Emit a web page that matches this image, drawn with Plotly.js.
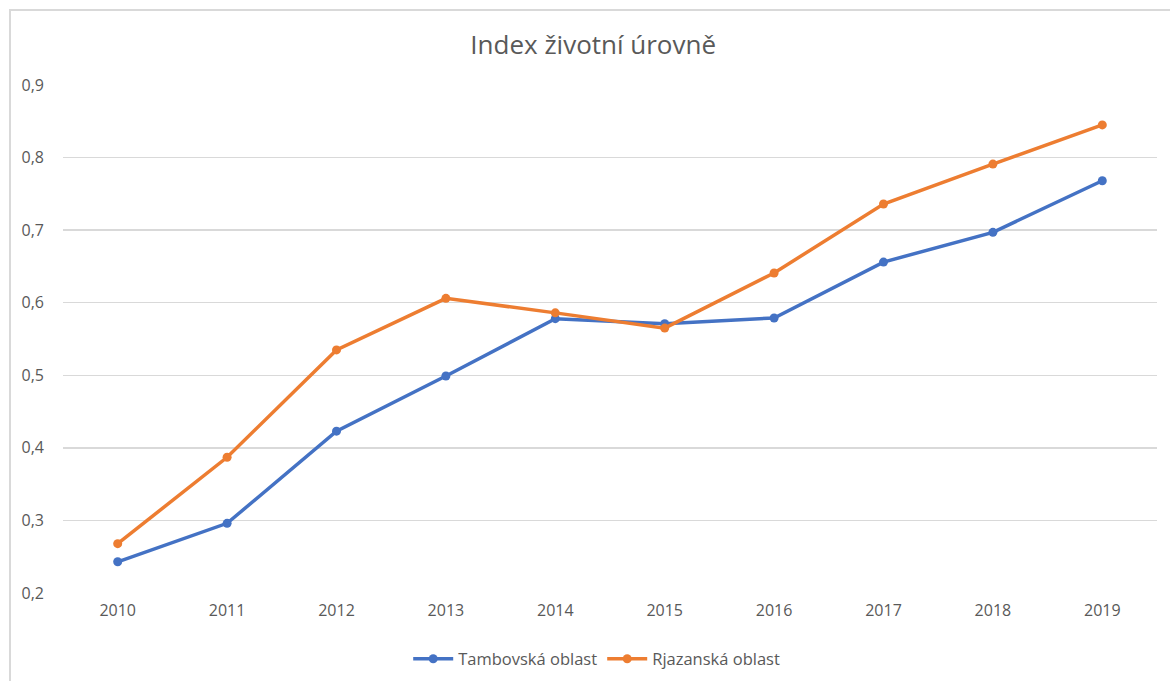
<!DOCTYPE html>
<html>
<head>
<meta charset="utf-8">
<script src="https://cdn.plot.ly/plotly-3.0.1.min.js"></script>
<style>
html,body{margin:0;padding:0;background:#fff;}
#frame{position:absolute;left:9px;top:9px;width:1200px;height:700px;border:2px solid #d9d9d9;box-sizing:border-box;}
#chart{position:absolute;left:0;top:0;width:1170px;height:681px;}
</style>
</head>
<body>
<div id="frame"></div>
<div id="chart"></div>
<script>
const years = ["2010","2011","2012","2013","2014","2015","2016","2017","2018","2019"];
const tambovska = [0.243, 0.296, 0.423, 0.499, 0.578, 0.571, 0.579, 0.656, 0.697, 0.768];
const rjazanska = [0.268, 0.387, 0.535, 0.606, 0.586, 0.565, 0.641, 0.736, 0.791, 0.845];
const seriesNames = ["Tambovská oblast", "Rjazanská oblast"];
const titleText = "Index životní úrovně";

const font = "'Open Sans', 'Liberation Sans', sans-serif";
const traces = [
  {x: years, y: tambovska, name: seriesNames[0], type: 'scatter', mode: 'lines+markers',
   line: {color: '#4472C4', width: 3.5}, marker: {color: '#4472C4', size: 9}},
  {x: years, y: rjazanska, name: seriesNames[1], type: 'scatter', mode: 'lines+markers',
   line: {color: '#ED7D31', width: 3.5}, marker: {color: '#ED7D31', size: 9}}
];
const layout = {
  width: 1170, height: 681,
  paper_bgcolor: 'rgba(0,0,0,0)', plot_bgcolor: 'rgba(0,0,0,0)',
  margin: {l: 63, r: 13, t: 85, b: 88},
  separators: ', ',
  font: {family: font, color: '#595959', size: 16},
  title: {text: titleText, x: 0.507, xref: 'container', xanchor: 'center',
          y: 1 - 45/681, yref: 'container', yanchor: 'middle',
          font: {family: font, size: 26, color: '#595959'}},
  xaxis: {type: 'category', range: [-0.5, 9.5], showgrid: false, zeroline: false,
          showline: false, ticks: '', ticklabelstandoff: 6,
          tickfont: {size: 16, color: '#595959'}, fixedrange: true},
  yaxis: {range: [0.2, 0.9], dtick: 0.1, tick0: 0.2, tickformat: '.1f', showgrid: true,
          gridcolor: '#d9d9d9', gridwidth: 1.5, zeroline: false, showline: false, ticks: '',
          ticklabelstandoff: 18, tickfont: {size: 16, color: '#595959'}, fixedrange: true},
  showlegend: true,
  legend: {orientation: 'h', xref: 'container', yref: 'container', x: 0.51, xanchor: 'center',
           y: 1 - 659/681, yanchor: 'middle', font: {size: 16.5, color: '#595959'}, itemwidth: 40,
           traceorder: 'normal'},
  hovermode: false
};
Plotly.newPlot('chart', traces, layout, {displayModeBar: false, staticPlot: true});
</script>
</body>
</html>
